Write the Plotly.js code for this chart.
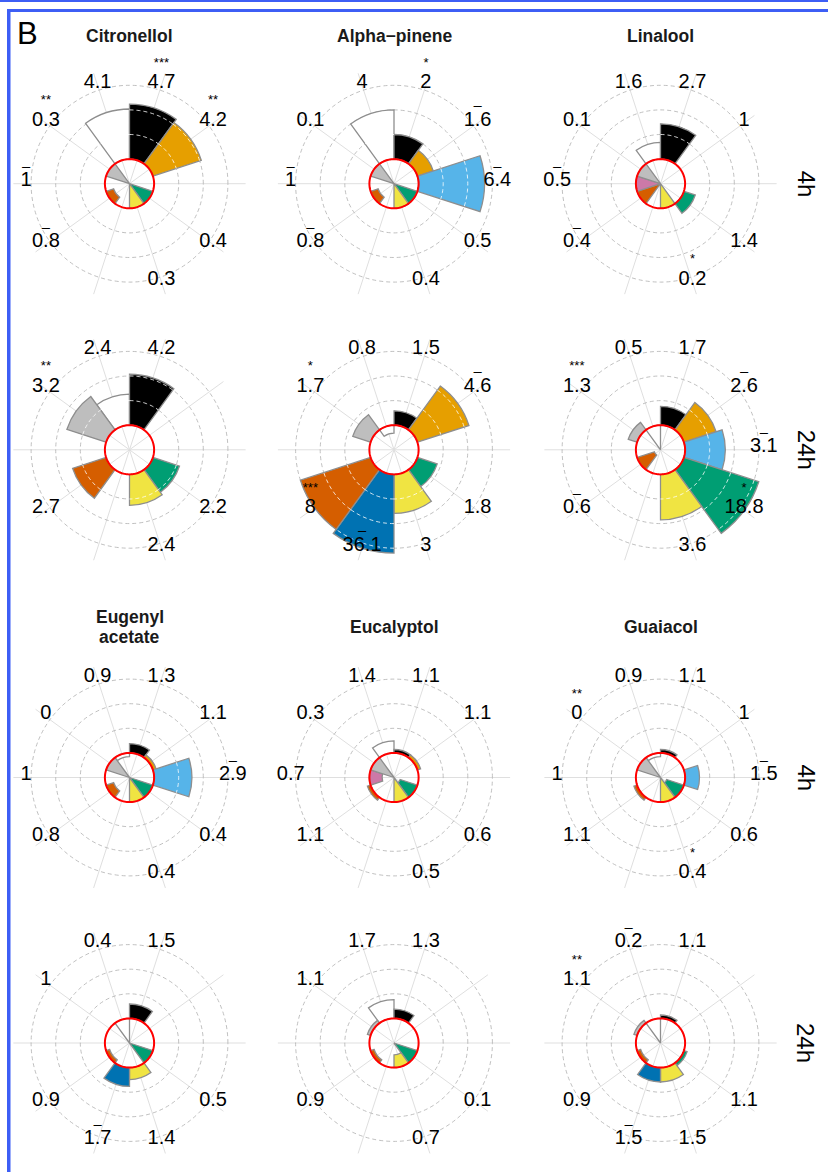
<!DOCTYPE html>
<html><head><meta charset="utf-8">
<script src="https://cdn.plot.ly/plotly-3.0.1.min.js"></script>
<style>html,body{margin:0;padding:0;background:#fff;} #chart{width:828px;height:1172px;}</style>
</head><body><div id="chart"></div>
<script>
// ---------------- data ----------------
const categories = ["white","black","orange","skyblue","green","yellow","blue","vermillion","pink","grey"];
const categoryColors = ["#FFFFFF","#000000","#E69F00","#56B4E9","#009E73","#F0E442","#0072B2","#D55E00","#CC79A7","#BEBEBE"];
const compounds = ["Citronellol","Alpha\u2212pinene","Linalool","Eugenyl<br>acetate","Eucalyptol","Guaiacol"];
const timepoints = ["4h","24h"];

// fold-change values per category (null = not shown); marks: "*"…"***" or "-" (bar)
const citronellol4h  = [4.1, 4.7, 4.2, null, 0.4, 0.3, null, 0.8, 1, 0.3];
const citronellol4hSig = ["", "***", "**", "", "", "", "", "-", "-", "**"];
const alphapinene4h  = [4, 2, 1.6, 6.4, 0.5, 0.4, null, 0.8, 1, 0.1];
const alphapinene4hSig = ["", "*", "-", "-", "", "", "", "-", "-", ""];
const linalool4h     = [1.6, 2.7, 1, null, 1.4, 0.2, null, 0.4, 0.5, 0.1];
const linalool4hSig  = ["", "", "", "", "", "*", "", "-", "-", ""];

const citronellol24h = [2.4, 4.2, null, null, 2.2, 2.4, null, 2.7, null, 3.2];
const citronellol24hSig = ["", "", "", "", "", "", "", "", "", "**"];
const alphapinene24h = [0.8, 1.5, 4.6, null, 1.8, 3, 36.1, 8, null, 1.7];
const alphapinene24hSig = ["", "", "-", "", "", "", "-", "***", "", "*"];
const linalool24h    = [0.5, 1.7, 2.6, 3.1, 18.8, 3.6, null, 0.6, null, 1.3];
const linalool24hSig = ["", "", "-", "-", "*", "", "", "-", "", "***"];

const eugenyl4h      = [0.9, 1.3, 1.1, 2.9, 0.4, 0.4, null, 0.8, 1, 0];
const eugenyl4hSig   = ["", "", "", "-", "", "", "", "", "", ""];
const eucalyptol4h   = [1.4, 1.1, 1.1, null, 0.6, 0.5, null, 1.1, 0.7, 0.3];
const eucalyptol4hSig = ["", "", "", "", "", "", "", "", "", ""];
const guaiacol4h     = [0.9, 1.1, 1, 1.5, 0.6, 0.4, null, 1.1, 1, 0];
const guaiacol4hSig  = ["", "", "", "-", "", "*", "", "", "", "**"];

const eugenyl24h     = [0.4, 1.5, null, null, 0.5, 1.4, 1.7, 0.9, null, 1];
const eugenyl24hSig  = ["", "", "", "", "", "", "-", "", "", ""];
const eucalyptol24h  = [1.7, 1.3, null, null, 0.1, 0.7, null, 0.9, null, 1.1];
const eucalyptol24hSig = ["", "", "", "", "", "", "", "", "", ""];
const guaiacol24h    = [0.2, 1.1, null, null, 1.1, 1.5, 1.5, 0.9, null, 1.1];
const guaiacol24hSig = ["-", "", "", "", "", "", "-", "", "", "**"];

// ---------------- layout helpers ----------------
const W = 828, H = 1172;
const colX = [129.5, 394, 660.5];
const rowY = [183.7, 449.8, 777.5, 1043];
const UNIT = 24.6, RMIN = -1, RMAX = 3.72, CAP = 3.2, LABEL_R = 3.2;
const RPX = (RMAX - RMIN) * UNIT;
const catAngle = categories.map((c, i) => (i * 36 + 342) % 360);
const FONT = "Liberation Sans, Arial, sans-serif";

// label typography
const LABEL_FS = 20, STAR_FS = 13, BAR_FS = 14, LABEL_SHIFT = 4.5, MARK_GAP = 21.4;
const labelBaseline = -LABEL_SHIFT + 0.358 * LABEL_FS;   // px below anchor
const LABEL_BASE_FS = labelBaseline / 0.25;               // plotly 'middle' offset = 0.25*fs
const MARK_BASE_FS = -(labelBaseline - MARK_GAP) / 0.25;  // plotly 'top' offset = -0.25*fs
const markHtml = s => s === "-"
  ? '<span style="font-size:' + BAR_FS + 'px">_</span>'
  : '<span style="font-size:' + STAR_FS + 'px">' + s + '</span>';

const panels = [
  {c:0, t:0, v:citronellol4h,  s:citronellol4hSig},
  {c:1, t:0, v:alphapinene4h,  s:alphapinene4hSig},
  {c:2, t:0, v:linalool4h,     s:linalool4hSig},
  {c:0, t:1, v:citronellol24h, s:citronellol24hSig},
  {c:1, t:1, v:alphapinene24h, s:alphapinene24hSig},
  {c:2, t:1, v:linalool24h,    s:linalool24hSig},
  {c:3, t:0, v:eugenyl4h,      s:eugenyl4hSig},
  {c:4, t:0, v:eucalyptol4h,   s:eucalyptol4hSig},
  {c:5, t:0, v:guaiacol4h,     s:guaiacol4hSig},
  {c:3, t:1, v:eugenyl24h,     s:eugenyl24hSig},
  {c:4, t:1, v:eucalyptol24h,  s:eucalyptol24hSig},
  {c:5, t:1, v:guaiacol24h,    s:guaiacol24hSig}
];

const clampLog = v => Math.max(RMIN, Math.min(CAP, Math.log2(v)));

const traces = [];
const layout = {
  width: W, height: H,
  margin: {l:0, r:0, t:0, b:0, pad:0},
  paper_bgcolor: "#ffffff",
  showlegend: false,
  annotations: [],
  shapes: []
};

const circTheta = [];
for (let a = 0; a <= 360; a += 3) circTheta.push(a);

panels.forEach((p, k) => {
  const sub = k === 0 ? "polar" : "polar" + (k + 1);
  const col = p.c % 3;
  const row = Math.floor(p.c / 3) * 2 + p.t;
  const cx = colX[col], cy = rowY[row];

  const idx = [];
  p.v.forEach((v, i) => { if (v !== null) idx.push(i); });
  const rr = idx.map(i => clampLog(p.v[i]));
  const th = idx.map(i => catAngle[i]);

  traces.push({
    type: "barpolar", subplot: sub,
    r: rr, theta: th, base: 0, width: 36,
    marker: {color: idx.map(i => categoryColors[i]), line: {color: "#8e8e8e", width: 1.3}},
    hoverinfo: "skip", showlegend: false
  });

  // light dashed grid arcs visible on top of bars
  const ar = [], at = [];
  idx.forEach((i, j) => {
    [1, 2, 3].forEach(g => {
      if (rr[j] > g + 0.05) {
        for (let a = -18; a <= 18; a += 2) { ar.push(g); at.push(catAngle[i] + a); }
        ar.push(null); at.push(null);
      }
    });
  });
  if (ar.length) {
    traces.push({
      type: "scatterpolar", subplot: sub, mode: "lines",
      r: ar, theta: at, connectgaps: false,
      line: {color: "rgba(255,255,255,0.8)", width: 1, dash: "4px,3px"},
      hoverinfo: "skip", showlegend: false
    });
  }

  // red reference circle at fold change 1
  traces.push({
    type: "scatterpolar", subplot: sub, mode: "lines",
    r: circTheta.map(() => 0), theta: circTheta,
    line: {color: "#ff0000", width: 2},
    hoverinfo: "skip", showlegend: false
  });

  // value labels
  traces.push({
    type: "scatterpolar", subplot: sub, mode: "text",
    r: idx.map(() => LABEL_R), theta: th,
    text: idx.map(i => '<span style="font-size:' + LABEL_FS + 'px">' + String(p.v[i]) + '</span>'),
    textposition: "middle center",
    textfont: {family: FONT, size: LABEL_BASE_FS, color: "#000000"},
    cliponaxis: false,
    hoverinfo: "skip", showlegend: false
  });

  // significance marks above labels
  const sIdx = idx.filter(i => p.s[i]);
  if (sIdx.length) {
    traces.push({
      type: "scatterpolar", subplot: sub, mode: "text",
      r: sIdx.map(() => LABEL_R), theta: sIdx.map(i => catAngle[i]),
      text: sIdx.map(i => markHtml(p.s[i])),
      textposition: "top center",
      textfont: {family: FONT, size: MARK_BASE_FS, color: "#000000"},
      cliponaxis: false,
      hoverinfo: "skip", showlegend: false
    });
  }

  layout[sub] = {
    domain: {x: [(cx - RPX) / W, (cx + RPX) / W], y: [(H - cy - RPX) / H, (H - cy + RPX) / H]},
    bgcolor: "rgba(0,0,0,0)",
    bargap: 0, barmode: "overlay",
    radialaxis: {
      range: [RMIN, RMAX], tickmode: "array", tickvals: [1, 2, 3],
      showticklabels: false, ticks: "", showline: false,
      gridcolor: "#b0b0b0", gridwidth: 0.8, griddash: "4px,3px"
    },
    angularaxis: {
      type: "linear", thetaunit: "degrees", rotation: 90, direction: "clockwise",
      tickmode: "array", tickvals: catAngle,
      showticklabels: false, ticks: "", showline: false,
      gridcolor: "#dfdfdf", gridwidth: 1
    }
  };
});

// compound titles
const titleY = [35.8, 627];
const TITLE_LH = 19.8;
compounds.forEach((name, c) => {
  const lines = name.split("<br>");
  const col = c % 3, g = Math.floor(c / 3);
  const n = lines.length;
  lines.forEach((ln, j) => {
    layout.annotations.push({
      xref: "paper", yref: "paper", x: colX[col] / W,
      y: 1 - (titleY[g] + (j - (n - 1) / 2) * TITLE_LH) / H,
      text: ln, showarrow: false, xanchor: "center", yanchor: "middle",
      font: {family: FONT, size: 17.5, weight: 700, color: "#1a1a1a"}
    });
  });
});

// time labels at right
rowY.forEach((y, r) => {
  layout.annotations.push({
    xref: "paper", yref: "paper", x: 806 / W, y: 1 - y / H,
    text: timepoints[r % 2], showarrow: false, textangle: 90,
    xanchor: "center", yanchor: "middle",
    font: {family: FONT, size: 24, color: "#000000"}
  });
});

// panel letter
layout.annotations.push({
  xref: "paper", yref: "paper", x: 27 / W, y: 1 - 33.5 / H,
  text: "B", showarrow: false, xanchor: "center", yanchor: "middle",
  font: {family: "Liberation Sans Narrow, Liberation Sans, Arial, sans-serif", size: 31, color: "#000000"}
});

// blue frame
const FRAME = "#3d5ef5";
layout.shapes.push(
  {type: "rect", xref: "paper", yref: "paper", x0: 0, x1: 1, y0: 1 - 2 / H, y1: 1, fillcolor: FRAME, line: {width: 0}},
  {type: "rect", xref: "paper", yref: "paper", x0: 7 / W, x1: 1, y0: 1 - 12 / H, y1: 1 - 9 / H, fillcolor: FRAME, line: {width: 0}},
  {type: "rect", xref: "paper", yref: "paper", x0: 7 / W, x1: 10.5 / W, y0: 0, y1: 1 - 9 / H, fillcolor: FRAME, line: {width: 0}}
);

Plotly.newPlot("chart", traces, layout, {displayModeBar: false, staticPlot: true});
</script>
</body></html>
